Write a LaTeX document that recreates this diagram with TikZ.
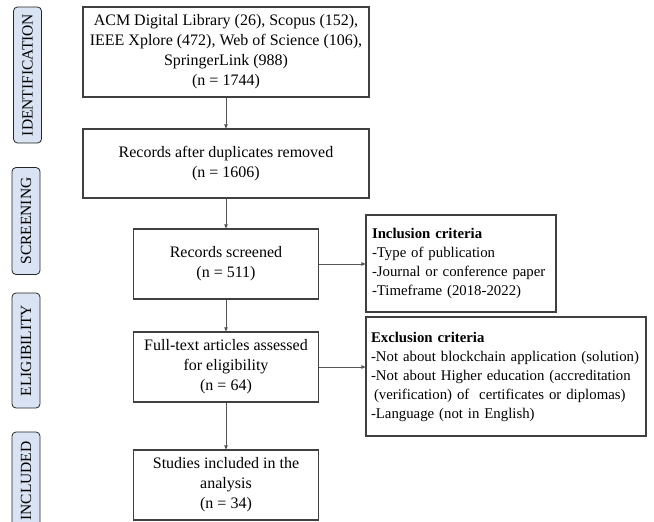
\documentclass[tikz,border=0pt]{standalone}
\usepackage{fontspec}
\setmainfont{Liberation Serif}
\usetikzlibrary{arrows.meta,positioning}
\definecolor{lblfill}{HTML}{DAE3F3}
\definecolor{boxline}{HTML}{404040}
\definecolor{arrline}{HTML}{555555}
\begin{document}
\begin{tikzpicture}[x=1pt,y=-1pt,
  mainbox/.style={draw=boxline,line width=1.1pt,rectangle,align=center,inner sep=0pt,
    font=\fontsize{16}{20}\selectfont},
  critbox/.style={draw=boxline,line width=1.1pt,rectangle,align=left,inner sep=0pt,
    font=\fontsize{14.8}{19}\selectfont},
  phase/.style={draw=black!85,fill=lblfill,line width=0.8pt,rounded corners=4pt,rotate=90,
    minimum height=28pt,inner sep=0pt,font=\fontsize{15.5}{17}\selectfont},
  flow/.style={draw=arrline,line width=0.7pt,-{Triangle[length=4pt,width=3.5pt]}}]
\useasboundingbox (0,0) rectangle (654,522);
\fill[white] (0,0) rectangle (654,522);

% phase labels
\node[phase,minimum width=136pt] (lid) at (27.5,75) {IDENTIFICATION};
\node[phase,minimum width=107pt] (lsc) at (26,221) {SCREENING};
\node[phase,minimum width=115pt] (lel) at (26,350.5) {ELIGIBILITY};
\node[phase,minimum width=98pt] (lin) at (26,481) {INCLUDED};

% main column
\node[mainbox,minimum width=286pt,minimum height=90pt] (b1) at (226,52)
  {ACM Digital Library (26), Scopus (152),\\IEEE Xplore (472), Web of Science (106),\\SpringerLink (988)\\(n = 1744)};
\node[mainbox,minimum width=286pt,minimum height=69pt] (b2) at (226,163.5)
  {Records after duplicates removed\\(n = 1606)};
\node[mainbox,minimum width=185pt,minimum height=70pt] (b3) at (226,264)
  {Records screened\\(n = 511)};
\node[mainbox,minimum width=185pt,minimum height=70pt] (b4) at (226,367)
  {Full-text articles assessed\\for eligibility\\(n = 64)};
\node[mainbox,minimum width=185pt,minimum height=70pt] (b5) at (226,485)
  {Studies included in the\\analysis\\(n = 34)};

% criteria boxes
\node[critbox,minimum width=190pt,minimum height=97pt,text width=178pt] (inc) at (461,263.5)
  {\textbf{Inclusion criteria}\\-Type of publication\\-Journal or conference paper\\-Timeframe (2018-2022)};
\node[critbox,minimum width=280pt,minimum height=119pt,text width=270pt] (exc) at (506,376.5)
  {\textbf{Exclusion criteria}\\-Not about blockchain application (solution)\\-Not about Higher education (accreditation\\\hspace*{3pt}(verification) of \ certificates or diplomas)\\-Language (not in English)};

% connectors
\draw[flow] (b1.south) -- (b2.north);
\draw[flow] (b2.south) -- (b3.north);
\draw[flow] (b3.south) -- (b4.north);
\draw[flow] (b4.south) -- (b5.north);
\draw[flow] (b3.east) -- (b3.east -| inc.west);
\draw[flow] (b4.east) -- (b4.east -| exc.west);
\end{tikzpicture}
\end{document}
